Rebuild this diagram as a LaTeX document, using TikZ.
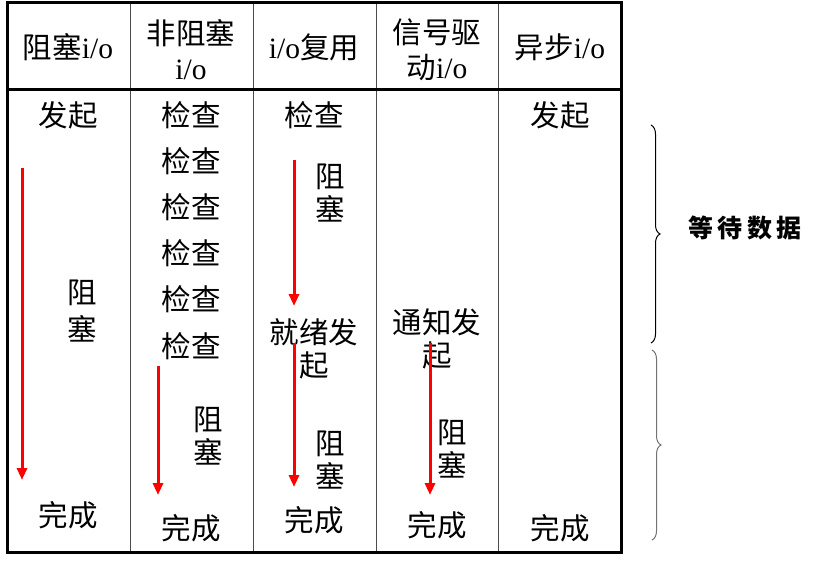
\documentclass[tikz,border=0pt]{standalone}
\usepackage{fontspec}
\setmainfont{Liberation Serif}
\newfontfamily\cjk{Noto Sans CJK SC}
\usetikzlibrary{arrows.meta}
\usetikzlibrary{decorations.pathreplacing}

\begin{document}
\begin{tikzpicture}[x=1pt, y=-1pt,
    txt/.style={font=\cjk\fontsize{29.5}{33}\selectfont, inner sep=0pt, align=center},
    blockarrow/.style={draw=red, line width=3pt, -{Triangle[length=12pt, width=10pt]}},
    thinrule/.style={draw=black!70, line width=1pt},
    thickrule/.style={line width=3pt},
    waitbrace/.style={decorate, decoration={brace, amplitude=9pt}, line width=1pt}]
    \useasboundingbox (0,0) rectangle (827,567);
    % - Table lines
    \draw[thinrule](130,3)--(130,552);%column lines
    \draw[thinrule](253,3)--(253,552);
    \draw[thinrule](376,3)--(376,552);
    \draw[thinrule](498,3)--(498,552);
    \draw[thickrule](7,3) rectangle (621,552);%frame
    \draw[thickrule](7,90)--(621,90);%under the heads
    % - Column heads
    \node[txt] (headblock) at (68,47){阻塞{\rmfamily i/o}};
    \node[txt] (headnonblock) at (191,50){非阻塞\\[2pt]{\rmfamily i/o}};
    \node[txt] (headmux) at (314,47){{\rmfamily i/o}复用};
    \node[txt] (headsignal) at (437,50){信号驱\\[2pt]动{\rmfamily i/o}};
    \node[txt] (headasync) at (560,47){异步{\rmfamily i/o}};
    % - Blocking i/o
    \node[txt] (startblock) at (68,115){发起};
    \node[txt] (waitblock) at (82,311){阻\\[4pt]塞};
    \node[txt] (doneblock) at (68,515){完成};
    \coordinate (blocktop) at (22,168);
    \coordinate (blockbot) at (22,480);
    \draw[blockarrow](blocktop)--(blockbot);
    % - Non-blocking i/o
    \foreach \y [count=\i] in {115,161,207,253,299,346}
        \node[txt] (check\i) at (191,\y){检查};
    \node[txt] (waitnonblock) at (208,436){阻\\塞};
    \node[txt] (donenonblock) at (191,528){完成};
    \coordinate (nonblocktop) at (158,366);
    \coordinate (nonblockbot) at (158,495);
    \draw[blockarrow](nonblocktop)--(nonblockbot);
    % - i/o multiplexing
    \node[txt] (checkmux) at (314,115){检查};
    \node[txt] (waitmuxone) at (330,193){阻\\塞};
    \node[txt] (readymux) at (314,349){就绪发\\起};
    \node[txt] (waitmuxtwo) at (330,460){阻\\塞};
    \node[txt] (donemux) at (314,520){完成};
    \coordinate (muxtopone) at (294,160);
    \coordinate (muxbotone) at (294,306);
    \coordinate (muxtoptwo) at (294,343);
    \coordinate (muxbottwo) at (294,487);
    \draw[blockarrow](muxtopone)--(muxbotone);
    \draw[blockarrow](muxtoptwo)--(muxbottwo);
    % - Signal driven i/o
    \node[txt] (notifysignal) at (437,339){通知发\\起};
    \node[txt] (waitsignal) at (452,449){阻\\塞};
    \node[txt] (donesignal) at (437,525){完成};
    \coordinate (signaltop) at (430,343);
    \coordinate (signalbot) at (430,495);
    \draw[blockarrow](signaltop)--(signalbot);
    % - Asynchronous i/o
    \node[txt] (startasync) at (560,115){发起};
    \node[txt] (doneasync) at (560,528){完成};
    % - Braces
    \coordinate (bracetopone) at (651,125);
    \coordinate (bracebotone) at (651,343);
    \coordinate (bracetoptwo) at (652,350);
    \coordinate (bracebottwo) at (652,540);
    \draw[waitbrace](bracetopone)--(bracebotone);
    \draw[waitbrace, draw=black!55](bracetoptwo)--(bracebottwo);
    \node[font=\cjk\bfseries\fontsize{25}{28}\selectfont, inner sep=0pt] (waitdata) at (745,228){等\,待\,数\,据};
\end{tikzpicture}
\end{document}
